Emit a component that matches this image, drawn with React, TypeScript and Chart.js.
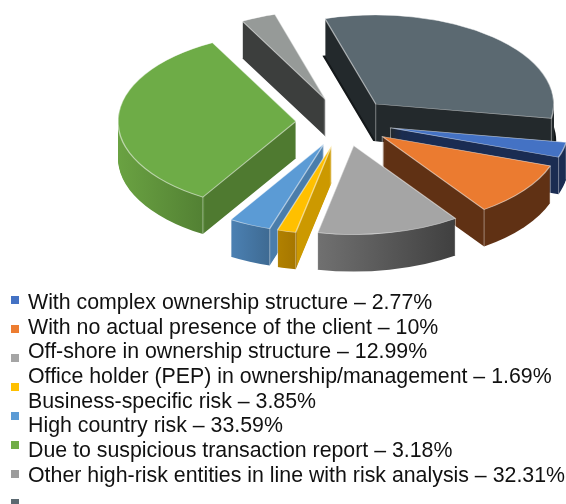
import React, { useEffect, useRef } from "react";
import { Chart, registerables } from "chart.js";

Chart.register(...registerables);

// Data
const categories = [
  "With complex ownership structure",
  "With no actual presence of the client",
  "Off-shore in ownership structure",
  "Office holder (PEP) in ownership/management",
  "Business-specific risk",
  "High country risk",
  "Due to suspicious transaction report",
  "Other high-risk entities in line with risk analysis",
];
const shares = [2.77, 10, 12.99, 1.69, 3.85, 33.59, 3.18, 32.31];

// Styles
const faceColors = ["#4472C4", "#EB7B30", "#A5A5A5", "#FFC000", "#5B9BD5", "#6EAC47", "#969A98", "#5B6971"];
const markerColors = ["#4472C4", "#ED7D31", "#A5A5A5", "#FFC000", "#5B9BD5", "#70AD47", "#9C9C9C", "#5B6971"];
// wall shading: [screen x, colour] stops
const wallStops: [number, string][][] = [
  [[380, "#1A2C52"], [570, "#1A2C52"]],
  [[380, "#603114"], [560, "#603114"]],
  [[319, "#707070"], [457, "#3F3F3F"]],
  [[279, "#B08000"], [297, "#A57600"], [297, "#CC9900"], [335, "#CC9900"]],
  [[232, "#4B80B2"], [270, "#3E6A92"], [270, "#4A7DAB"], [326, "#4A7DAB"]],
  [[118, "#6AA242"], [205, "#528033"], [205, "#4F7A30"], [298, "#4F7A30"]],
  [[240, "#3C3E3D"], [330, "#3C3E3D"]],
  [[320, "#23292C"], [560, "#23292C"]],
];

const CX = 344;
const CY = 122;
const RADIUS = 178;
const SQUASH = 0.5;
const EXPLODE = 48;
const DEPTH = 37;
const ROTATION = 99.3;
const EDGE = "rgba(255,255,255,0.55)";

const plainOptions = (fill: any, border: any, width: number) => ({
  backgroundColor: fill,
  borderColor: border,
  borderWidth: width,
  borderAlign: "center",
  borderJoinStyle: "round",
  borderRadius: 0,
  borderDash: [],
  borderDashOffset: 0,
  circular: true,
  offset: 0,
  spacing: 0,
  selfJoin: false,
});

const pie3d = {
  id: "pie3d",
  beforeDatasetsDraw(chart: any) {
    const ctx: CanvasRenderingContext2D = chart.ctx;
    const arcs: any[] = chart.getDatasetMeta(0).data;
    const order = arcs
      .map((arc, i) => ({ arc, i, mid: (arc.startAngle + arc.endAngle) / 2 }))
      .sort((a, b) => Math.sin(a.mid) - Math.sin(b.mid));

    for (const { arc, i, mid } of order) {
      const ex = Math.cos(mid) * EXPLODE;
      const ey = Math.sin(mid) * EXPLODE;
      const place = (dx: number, dy: number) => {
        ctx.setTransform(1, 0, 0, 1, 0, 0);
        ctx.translate(CX + dx, CY + dy);
        ctx.scale(1, SQUASH);
        ctx.translate(ex - arc.x, ey - arc.y);
      };
      const stops = wallStops[i];
      const toLocal = (sx: number) => sx - CX - ex + arc.x;
      const x0 = stops[0][0];
      const x1 = stops[stops.length - 1][0];
      const grad = ctx.createLinearGradient(toLocal(x0), 0, toLocal(x1), 0);
      stops.forEach(([x, c]) => grad.addColorStop((x - x0) / (x1 - x0), c));
      const saved = arc.options;

      ctx.save();
      // soft dark rim under the biggest back slice
      if (i === faceColors.length - 1) {
        arc.options = plainOptions("#14181A", "#14181A", 0);
        [-2.5, 2.5].forEach((dx) => {
          place(dx, DEPTH);
          arc.draw(ctx);
        });
      }
      // extruded wall
      arc.options = plainOptions(grad, grad, 0);
      for (let d = DEPTH; d >= 1; d--) {
        place(0, d);
        arc.draw(ctx);
      }
      // vertical edges at the corners
      place(0, 0);
      ctx.strokeStyle = EDGE;
      ctx.lineWidth = 1;
      const r = arc.outerRadius;
      const corners: [number, number][] = [
        [arc.x + Math.cos(arc.startAngle) * r, arc.y + Math.sin(arc.startAngle) * r],
        [arc.x + Math.cos(arc.endAngle) * r, arc.y + Math.sin(arc.endAngle) * r],
        [arc.x, arc.y],
      ];
      corners.forEach(([px, py]) => {
        ctx.beginPath();
        ctx.moveTo(px, py);
        ctx.lineTo(px, py + DEPTH / SQUASH);
        ctx.stroke();
      });
      // top face
      arc.options = plainOptions(faceColors[i], EDGE, 1.4);
      place(0, 0);
      arc.draw(ctx);
      ctx.restore();
      arc.options = saved;
    }
    ctx.setTransform(1, 0, 0, 1, 0, 0);
    return false;
  },
};

const LEGEND_TEXT_TOP = 290.2;
const LEGEND_TEXT_STEP = 24.62;
const MARKER_TOP = 296;
const MARKER_STEP = 29;

export default function App() {
  const ref = useRef<HTMLCanvasElement>(null);
  useEffect(() => {
    const chart = new Chart(ref.current as HTMLCanvasElement, {
      type: "pie",
      data: {
        labels: categories,
        datasets: [{ data: shares, backgroundColor: faceColors, borderWidth: 0 }],
      },
      options: {
        animation: false,
        responsive: false,
        rotation: ROTATION,
        radius: RADIUS,
        layout: { padding: 0 },
        plugins: { legend: { display: false }, tooltip: { enabled: false } },
      } as any,
      plugins: [pie3d],
    });
    return () => chart.destroy();
  }, []);

  return (
    <div style={{ position: "absolute", left: 0, top: 0, width: 566, height: 504, overflow: "hidden", background: "#fff" }}>
      <canvas ref={ref} width={566} height={504} style={{ position: "absolute", left: 0, top: 0 }} />
      {categories.map((c, i) => (
        <React.Fragment key={c}>
          <div
            style={{
              position: "absolute",
              left: 11,
              top: MARKER_TOP + i * MARKER_STEP,
              width: 8,
              height: 8,
              background: markerColors[i],
            }}
          />
          <div
            style={{
              position: "absolute",
              left: 28,
              top: LEGEND_TEXT_TOP + i * LEGEND_TEXT_STEP,
              font: "21.34px/24px 'Liberation Sans', Arial, sans-serif",
              color: "#111",
              whiteSpace: "nowrap",
            }}
          >
            {`${c} – ${shares[i]}%`}
          </div>
        </React.Fragment>
      ))}
    </div>
  );
}
